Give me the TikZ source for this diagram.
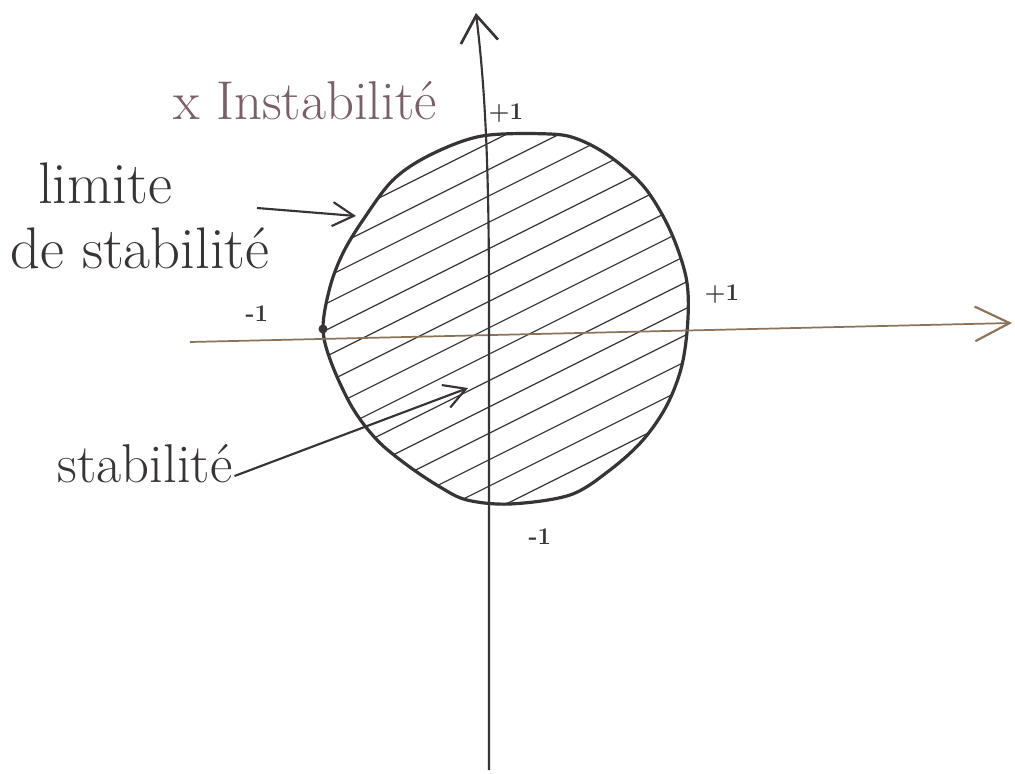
\documentclass[tikz,border=0pt]{standalone}
\usetikzlibrary{arrows.meta}
\definecolor{ink}{HTML}{383336}
\definecolor{mauve}{HTML}{7A5F66}
\definecolor{axisbrown}{HTML}{8A7358}
\tikzset{
  lbl/.style={text=ink, inner sep=0pt, font=\fontsize{44}{48}\selectfont},
  small/.style={text=ink, inner sep=0pt, font=\fontsize{18}{20}\selectfont\bfseries},
  pointer/.style={draw=ink, line width=1.6pt, -{Straight Barb[length=16pt,width=18pt,line width=1.6pt]}},
  hatch/.style={draw=ink, line width=0.9pt},
  rim/.style={draw=ink, line width=2.4pt, line join=round}
}
\begin{document}
\begin{tikzpicture}[x=0.75pt,y=-0.75pt]
\useasboundingbox (0,0) rectangle (1015,774);
\fill[white] (0,0) rectangle (1015,774);
% stability region outline path
\def\regionpath{plot[smooth cycle, tension=0.55] coordinates {(482,136) (550,134) (580,140) (612,158) (645,188) (670,230) (686,277) (688,318) (682,365) (667,405) (643,440) (610,470) (570,495) (510,504) (467,500) (440,487) (407,465) (377,440) (352,407) (331,362) (323,328) (330,287) (343,253) (363,220) (393,180) (430,155)}}
% hatching
\begin{scope}
  \clip \regionpath;
  \foreach \k in {0,...,15} {
    \draw[hatch] (300,{143+26.4*\k+94.5}) -- (720,{143+26.4*\k-115.5});
  }
\end{scope}
\draw[rim] \regionpath;
% axes
\coordinate (xs) at (190,342);
\coordinate (xe) at (1012,323);
\draw[draw=axisbrown, line width=1.3pt, -{Straight Barb[length=26pt,width=26pt,line width=1.6pt]}] (xs) -- (xe);
\coordinate (ys) at (489,770);
\coordinate (ye) at (476,13);
\draw[draw=ink, line width=1.6pt, -{Straight Barb[length=20pt,width=28pt,line width=2pt]}] (ys) -- (489,300) .. controls (489,150) and (484,80) .. (ye);
% point -1
\fill[ink] (323,329) circle (4.5);
% labels
\node[lbl, text=mauve, font=\fontsize{41}{44}\selectfont] (instab) at (305,101) {x Instabilit\'e};
\node[small] (p1top) at (506,113) {+1};
\node[lbl] (lim1) at (105,183) {limite};
\node[lbl] (lim2) at (140,248) {de stabilit\'e};
\node[small] (m1left) at (257,314) {-1};
\node[small] (p1right) at (722,294) {+1};
\node[lbl, font=\fontsize{41}{44}\selectfont] (stab) at (145,464) {stabilit\'e};
\node[small] (m1bot) at (540,537) {-1};
% pointers
\coordinate (limtip) at (356,216);
\draw[pointer] (257,208) -- (limtip);
\coordinate (stabtip) at (468,388);
\draw[pointer] (stab.east) ++(2,12) -- (stabtip);
\end{tikzpicture}
\end{document}
